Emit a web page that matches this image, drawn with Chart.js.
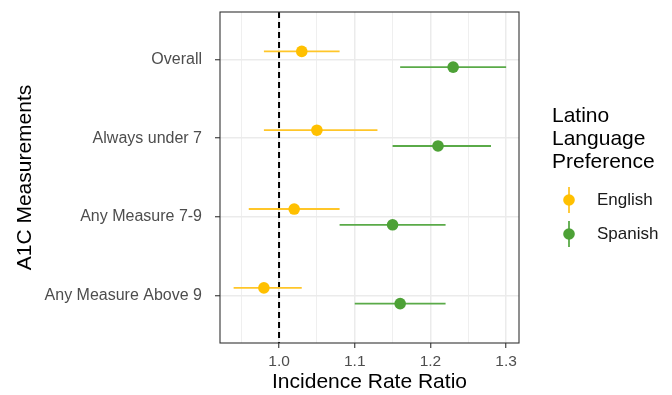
<!DOCTYPE html>
<html>
<head>
<meta charset="utf-8">
<script src="https://cdn.jsdelivr.net/npm/chart.js@4/dist/chart.umd.min.js"></script>
<style>
  body { margin: 0; background: #fff; }
  #wrap { position: relative; width: 672px; height: 395px; }
</style>
</head>
<body>
<div id="wrap"><canvas id="chart"></canvas></div>
<script>
// A1C categories, top to bottom
const categories = ['Overall', 'Always under 7', 'Any Measure 7-9', 'Any Measure Above 9']

const englishIRR = [1.03, 1.05, 1.02, 0.98]
const englishLow = [0.98, 0.98, 0.96, 0.94]
const englishHigh = [1.08, 1.13, 1.08, 1.03]

const spanishIRR = [1.23, 1.21, 1.15, 1.16]
const spanishLow = [1.16, 1.15, 1.08, 1.10]
const spanishHigh = [1.30, 1.28, 1.22, 1.22]

const xTicks = [0.95, 1.0, 1.05, 1.1, 1.15, 1.2, 1.25, 1.3]
const legendTitle = ['Latino', 'Language', 'Preference']

const ENGLISH = '#FFC000'
const SPANISH = '#4DA136'
const DODGE = 0.1
const FONT = '"Liberation Sans", Arial, sans-serif'

const isMajor = (v) => Math.abs(v * 10 - Math.round(v * 10)) < 1e-6

const englishPts = englishIRR.map((v, i) => ({ x: v, y: i + 1 - DODGE, lo: englishLow[i], hi: englishHigh[i] }))
const spanishPts = spanishIRR.map((v, i) => ({ x: v, y: i + 1 + DODGE, lo: spanishLow[i], hi: spanishHigh[i] }))

// error bars, reference line, panel border and legend
const forestPlugin = {
  id: 'forest',
  beforeDatasetsDraw(chart) {
    const { ctx, chartArea, scales: { x, y } } = chart
    ctx.save()
    // dashed line at 1
    ctx.strokeStyle = '#000'
    ctx.lineWidth = 2
    ctx.setLineDash([6, 4])
    ctx.beginPath()
    ctx.moveTo(x.getPixelForValue(1), chartArea.top)
    ctx.lineTo(x.getPixelForValue(1), chartArea.bottom)
    ctx.stroke()
    ctx.setLineDash([])
    // whiskers
    chart.data.datasets.forEach((ds) => {
      ctx.strokeStyle = ds.lineColor
      ctx.lineWidth = 1.8
      ds.data.forEach((p) => {
        const py = y.getPixelForValue(p.y)
        ctx.beginPath()
        ctx.moveTo(x.getPixelForValue(p.lo), py)
        ctx.lineTo(x.getPixelForValue(p.hi), py)
        ctx.stroke()
      })
    })
    ctx.restore()
  },
  afterDraw(chart) {
    const { ctx, chartArea } = chart
    ctx.save()
    ctx.strokeStyle = '#333333'
    ctx.lineWidth = 1.1
    ctx.strokeRect(chartArea.left, chartArea.top, chartArea.right - chartArea.left, chartArea.bottom - chartArea.top)

    // legend
    const lx = 552
    ctx.fillStyle = '#000'
    ctx.font = '21px ' + FONT
    ctx.textBaseline = 'middle'
    ctx.textAlign = 'left'
    legendTitle.forEach((t, i) => ctx.fillText(t, lx, 116 + i * 23))
    ctx.font = '17px ' + FONT
    chart.data.datasets.forEach((ds, i) => {
      const cy = 200 + i * 34
      const cx = 569
      ctx.strokeStyle = ds.lineColor
      ctx.lineWidth = 1.8
      ctx.beginPath()
      ctx.moveTo(cx, cy - 13)
      ctx.lineTo(cx, cy + 13)
      ctx.stroke()
      ctx.fillStyle = ds.backgroundColor
      ctx.beginPath()
      ctx.arc(cx, cy, 5.8, 0, Math.PI * 2)
      ctx.fill()
      ctx.fillStyle = '#1a1a1a'
      ctx.fillText(ds.label, 597, cy)
    })
    ctx.restore()
  }
}

const config = {
  type: 'scatter',
  data: {
    datasets: [
      {
        label: 'English',
        data: englishPts,
        backgroundColor: ENGLISH,
        borderColor: ENGLISH,
        lineColor: '#FFC629',
        pointRadius: 5.8,
        pointHoverRadius: 5.8,
        borderWidth: 0
      },
      {
        label: 'Spanish',
        data: spanishPts,
        backgroundColor: SPANISH,
        borderColor: SPANISH,
        lineColor: '#5AAA48',
        pointRadius: 5.8,
        pointHoverRadius: 5.8,
        borderWidth: 0
      }
    ]
  },
  options: {
    responsive: true,
    maintainAspectRatio: false,
    animation: false,
    events: [],
    layout: { padding: { top: 12, right: 153, bottom: 0, left: 0 } },
    plugins: {
      legend: { display: false },
      tooltip: { enabled: false }
    },
    scales: {
      x: {
        type: 'linear',
        min: 0.922,
        max: 1.317,
        afterBuildTicks: (scale) => { scale.ticks = xTicks.map((v) => ({ value: v })) },
        afterFit: (scale) => {
          scale.height = 52
          scale.paddingLeft = 0
          scale.paddingRight = 0
        },
        border: { display: false },
        grid: {
          color: '#EBEBEB',
          lineWidth: (c) => (isMajor(c.tick.value) ? 1.5 : 0.8),
          tickColor: (c) => (isMajor(c.tick.value) ? '#333333' : 'rgba(0,0,0,0)'),
          tickWidth: 1.1,
          tickLength: 5
        },
        ticks: {
          color: '#4D4D4D',
          font: { size: 15.5, family: FONT },
          padding: 4,
          maxRotation: 0,
          autoSkip: false,
          callback: (v) => (isMajor(v) ? v.toFixed(1) : '')
        },
        title: {
          display: true,
          text: 'Incidence Rate Ratio',
          color: '#000',
          font: { size: 21, family: FONT },
          padding: { top: 0, bottom: 0 }
        }
      },
      y: {
        type: 'linear',
        reverse: true,
        min: 0.4,
        max: 4.6,
        afterBuildTicks: (scale) => { scale.ticks = categories.map((c, i) => ({ value: i + 1 })) },
        afterFit: (scale) => {
          scale.width = 220
          scale.paddingTop = 0
          scale.paddingBottom = 0
        },
        border: { display: false },
        grid: {
          color: '#EBEBEB',
          lineWidth: 1.5,
          tickColor: '#333333',
          tickWidth: 1.1,
          tickLength: 5
        },
        ticks: {
          color: '#4D4D4D',
          font: { size: 16, family: FONT },
          padding: 13,
          autoSkip: false,
          callback: (v) => categories[Math.round(v) - 1]
        },
        title: {
          display: true,
          text: 'A1C Measurements',
          color: '#000',
          font: { size: 21, family: FONT },
          padding: { top: 13, bottom: 0 }
        }
      }
    }
  },
  plugins: [forestPlugin]
}

new Chart(document.getElementById('chart'), config)
</script>
</body>
</html>
